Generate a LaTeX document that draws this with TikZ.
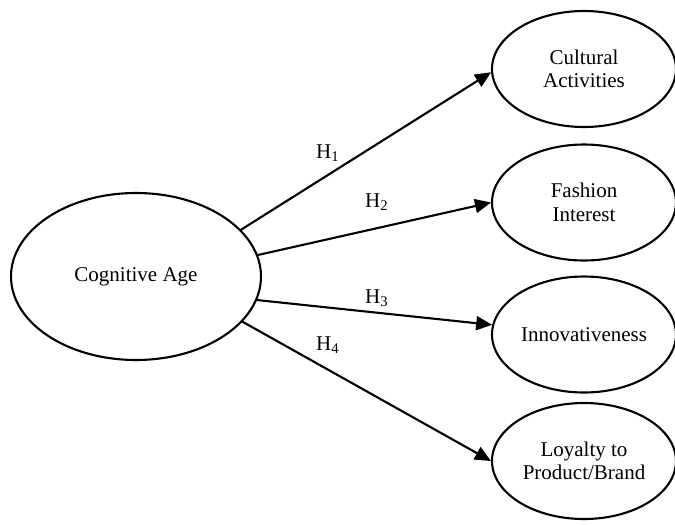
\documentclass[tikz,border=0pt]{standalone}
\usepackage{fontspec}
\setmainfont{Liberation Serif}
\usetikzlibrary{shapes.geometric,arrows.meta}
\begin{document}
\begin{tikzpicture}[x=0.5pt,y=-0.5pt,
  bigell/.style={draw,line width=1.05pt,ellipse,inner sep=0pt,minimum width=125pt,minimum height=83.5pt,font=\fontsize{10.5}{12}\selectfont},
  smallell/.style={draw,line width=1.05pt,ellipse,inner sep=0pt,minimum width=92pt,minimum height=58pt,align=center,font=\fontsize{10.5}{11.8}\selectfont},
  arr/.style={line width=1.05pt,-{Triangle[length=8pt,width=7pt]}},
  hlab/.style={font=\fontsize{10.5}{12}\selectfont,inner sep=0pt}]
\useasboundingbox (0,0) rectangle (675,525);
\node[bigell] (ca) at (136,276.5) {Cognitive Age};
\node[smallell] (cul) at (584,69) {Cultural\\Activities};
\node[smallell] (fas) at (584,202.5) {Fashion\\Interest};
\node[smallell] (inn) at (584,334.5) {Innovativeness};
\node[smallell] (loy) at (584,461) {Loyalty to\\Product/Brand};
\draw[arr] (ca.24) -- (cul.182);
\draw[arr] (ca.10.5) -- (fas.180);
\draw[arr] (ca.-11) -- (inn.174);
\draw[arr] (ca.-23) -- (loy.180);
\node[hlab] (h1) at (328,153) {H\textsubscript{1}};
\node[hlab] (h2) at (377,202) {H\textsubscript{2}};
\node[hlab] (h3) at (377,298) {H\textsubscript{3}};
\node[hlab] (h4) at (328,345) {H\textsubscript{4}};
\end{tikzpicture}
\end{document}
